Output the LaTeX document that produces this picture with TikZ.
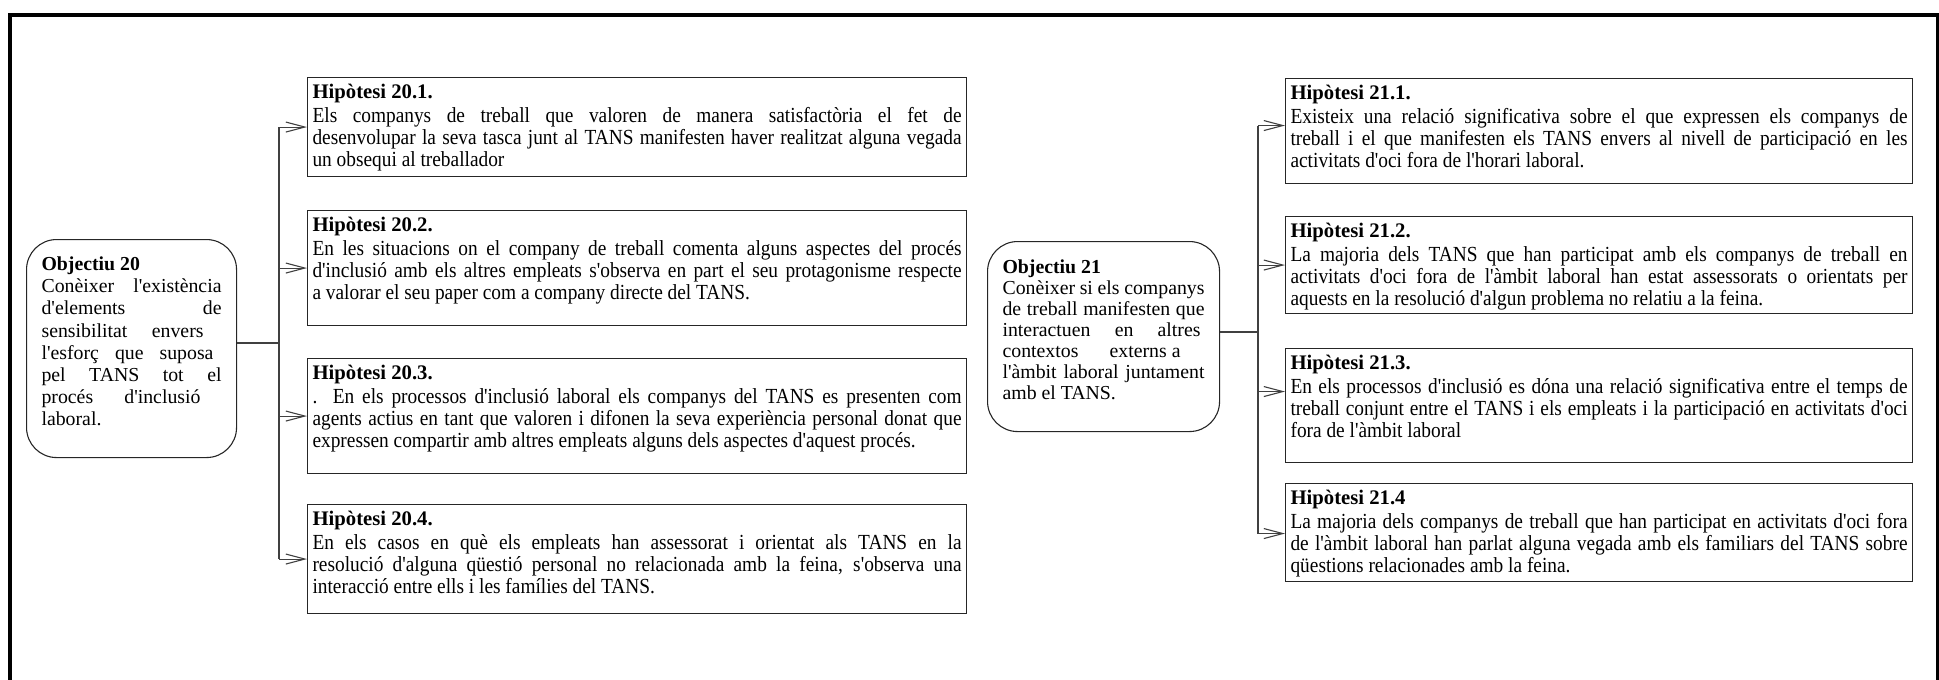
\documentclass[tikz,border=0pt]{standalone}
\usepackage{fontspec}
\newfontfamily\hypfont{Liberation Serif}[FakeStretch=0.9]
\newfontfamily\objfont{Liberation Serif}
\usetikzlibrary{arrows.meta}
\newcommand\hyptxt[4]{\parbox[c][#1pt][t]{#2pt}{\hypfont\fontsize{21.5pt}{21.8pt}\selectfont\rule{0pt}{21pt}{\objfont\bfseries\fontsize{20.7pt}{21.8pt}\selectfont #3}\\[2.2pt]#4}}
\newcommand\objtxt[5]{\parbox[c][#1pt][t]{#2pt}{\objfont\fontsize{19.8pt}{#4pt}\selectfont\rule{0pt}{#3pt}#5}}
\newcommand\fl[1]{\makebox[\linewidth][s]{#1}}
\newcommand\wl[2]{\makebox[#1pt][s]{#2}}
\tikzset{
  hypbox/.style={draw=black!85, line width=1.1pt, inner sep=0pt, anchor=north west},
  objbox/.style={draw=black!85, line width=1.1pt, inner sep=0pt, anchor=north west, rounded corners=30pt},
  conn/.style={draw=black!75, line width=1.1pt},
  arr/.style={conn, -{Straight Barb[length=19pt,width=10pt,line width=1.1pt]}},
  frameline/.style={line width=3.5pt, draw=black, line join=miter},
}
\begin{document}
\begin{tikzpicture}[x=1pt,y=-1pt]
\useasboundingbox (0,0) rectangle (1939,680);
\draw[frameline] (10,682) -- (10,15) -- (1937.5,15) -- (1937.5,682);

% Objective 20
\node[objbox, minimum width=210, minimum height=218] (o20) at (26,239)
 {\objtxt{218}{180}{31}{22.2}{\textbf{Objectiu 20}\\
 \fl{Conèixer l'existència}\\
 \fl{d'elements de}\\
 \wl{162}{sensibilitat envers}\\
 \wl{172}{l'esforç que suposa}\\
 \fl{pel TANS tot el}\\
 \wl{159}{procés d'inclusió}\\
 laboral.}};

% Hypotheses 20
\node[hypbox, minimum width=659, minimum height=99] (h201) at (307,77)
 {\hyptxt{99}{649}{Hipòtesi 20.1.}{\fl{Els companys de treball que valoren de manera satisfactòria el fet de}\\
 \fl{desenvolupar la seva tasca junt al TANS manifesten haver realitzat alguna vegada}\\
 un obsequi al treballador}};
\node[hypbox, minimum width=659, minimum height=115] (h202) at (307,210)
 {\hyptxt{115}{649}{Hipòtesi 20.2.}{\fl{En les situacions on el company de treball comenta alguns aspectes del procés}\\
 \fl{d'inclusió amb els altres empleats s'observa en part el seu protagonisme respecte}\\
 a valorar el seu paper com a company directe del TANS.}};
\node[hypbox, minimum width=659, minimum height=115] (h203) at (307,358)
 {\hyptxt{115}{649}{Hipòtesi 20.3.}{\fl{. En els processos d'inclusió laboral els companys del TANS es presenten com}\\
 \fl{agents actius en tant que valoren i difonen la seva experiència personal donat que}\\
 expressen compartir amb altres empleats alguns dels aspectes d'aquest procés.}};
\node[hypbox, minimum width=659, minimum height=109] (h204) at (307,504)
 {\hyptxt{109}{649}{Hipòtesi 20.4.}{\fl{En els casos en què els empleats han assessorat i orientat als TANS en la}\\
 \fl{resolució d'alguna qüestió personal no relacionada amb la feina, s'observa una}\\
 interacció entre ells i les famílies del TANS.}};

% Objective 21
\node[objbox, minimum width=232, minimum height=190] (o21) at (987,241)
 {\objtxt{190}{202}{32}{21}{\textbf{Objectiu 21}\\
 \fl{Conèixer si els companys}\\
 \fl{de treball manifesten que}\\
 \wl{198}{interactuen en altres}\\
 \wl{178}{contextos\hfill externs a}\\
 \fl{l'àmbit laboral juntament}\\
 amb el TANS.}};

% Hypotheses 21
\node[hypbox, minimum width=627, minimum height=105] (h211) at (1285,78)
 {\hyptxt{105}{617}{Hipòtesi 21.1.}{\fl{Existeix una relació significativa sobre el que expressen els companys de}\\
 \fl{treball i el que manifesten els TANS envers al nivell de participació en les}\\
 activitats d'oci fora de l'horari laboral.}};
\node[hypbox, minimum width=627, minimum height=97] (h212) at (1285,216)
 {\hyptxt{97}{617}{Hipòtesi 21.2.}{\fl{La majoria dels TANS que han participat amb els companys de treball en}\\
 \fl{activitats d'oci fora de l'àmbit laboral han estat assessorats o orientats per}\\
 aquests en la resolució d'algun problema no relatiu a la feina.}};
\node[hypbox, minimum width=627, minimum height=114] (h213) at (1285,348)
 {\hyptxt{114}{617}{Hipòtesi 21.3.}{\fl{En els processos d'inclusió es dóna una relació significativa entre el temps de}\\
 \fl{treball conjunt entre el TANS i els empleats i la participació en activitats d'oci}\\
 fora de l'àmbit laboral}};
\node[hypbox, minimum width=627, minimum height=98] (h214) at (1285,483)
 {\hyptxt{98}{617}{Hipòtesi 21.4}{\fl{La majoria dels companys de treball que han participat en activitats d'oci fora}\\
 \fl{de l'àmbit laboral han parlat alguna vegada amb els familiars del TANS sobre}\\
 qüestions relacionades amb la feina.}};

% Connectors left
\coordinate (t20) at (279,343);
\draw[conn] (o20.east |- t20) -- (t20);
\draw[conn] (t20 |- h201.west) -- (t20 |- h204.west);
\foreach \n in {201,202,203,204} \draw[arr] (t20 |- h\n.west) -- (h\n.west);

% Connectors right
\coordinate (t21) at (1258,332);
\coordinate (a211) at ([yshift=5.5pt]h211.west);
\coordinate (a212) at (h212.west);
\coordinate (a213) at ([yshift=14pt]h213.west);
\coordinate (a214) at ([yshift=-1pt]h214.west);
\draw[conn] (o21.east |- t21) -- (t21);
\draw[conn] (t21 |- a211) -- (t21 |- a214);
\foreach \n in {211,212,213,214} \draw[arr] (t21 |- a\n) -- (a\n);
\end{tikzpicture}
\end{document}
